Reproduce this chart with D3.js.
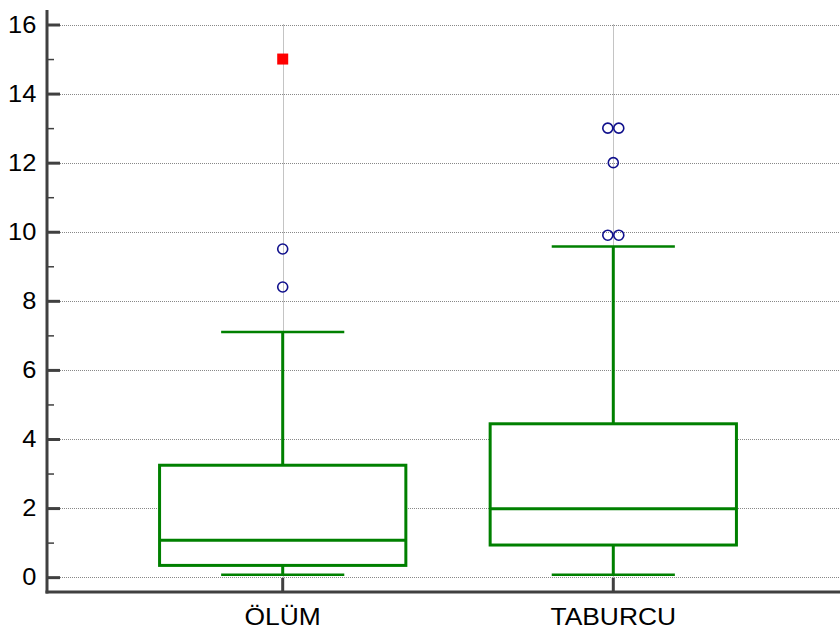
<!DOCTYPE html>
<html>
<head>
<meta charset="utf-8">
<script src="https://cdn.jsdelivr.net/npm/d3@7"></script>
<style>
  body { margin: 0; background: #fff; }
  svg { display: block; font-family: "Liberation Sans", Arial, sans-serif; }
</style>
</head>
<body>
<div id="chart"></div>
<script>
// data
var categories = ["ÖLÜM", "TABURCU"]
var lowWhisker = [0.07, 0.07]
var q1 = [0.34, 0.93]
var median = [1.07, 1.98]
var q3 = [3.24, 4.44]
var highWhisker = [7.1, 9.57]
var outliers = [[9.5, 8.4], [13, 13, 12, 9.9, 9.9]]
var farOutliers = [[15], []]
var majorTicks = [0, 2, 4, 6, 8, 10, 12, 14, 16]
var minorTicks = [1, 3, 5, 7, 9, 11, 13, 15]

var width = 840, height = 630
var axisColor = "#404040", green = "#008000"

var svg = d3.select("#chart").append("svg")
  .attr("width", width)
  .attr("height", height)

var x = d3.scaleBand()
  .domain(categories)
  .range([47, 849])
  .paddingInner(0)
  .paddingOuter(0.213)

var y = d3.scaleLinear()
  .domain([-0.43, 16.42])
  .range([592, 10])

// snap a coordinate to the pixel grid so 1px dotted lines stay crisp
function crisp(v) { return Math.round(v) + 0.5 }

var boxW = x.bandwidth() * 0.745
var capW = boxW / 2

// horizontal grid
svg.append("g").selectAll("line")
  .data(majorTicks)
  .enter().append("line")
  .attr("x1", 60).attr("x2", width)
  .attr("y1", function(d) { return crisp(y(d)) }).attr("y2", function(d) { return crisp(y(d)) })
  .attr("stroke", "#888").attr("stroke-width", 1).attr("stroke-dasharray", "1,1")

// vertical grid at categories
svg.append("g").selectAll("line")
  .data(categories)
  .enter().append("line")
  .attr("x1", function(d) { return crisp(x(d) + x.bandwidth() / 2) })
  .attr("x2", function(d) { return crisp(x(d) + x.bandwidth() / 2) })
  .attr("y1", y(16)).attr("y2", 578)
  .attr("stroke", "#888").attr("stroke-width", 1).attr("stroke-dasharray", "1,1")

// boxes
var g = svg.append("g")
categories.forEach(function(c, i) {
  var cx = x(c) + x.bandwidth() / 2
  // whisker lines
  g.append("line").attr("x1", cx).attr("x2", cx)
    .attr("y1", y(highWhisker[i])).attr("y2", y(q3[i]))
    .attr("stroke", green).attr("stroke-width", 3)
  g.append("line").attr("x1", cx).attr("x2", cx)
    .attr("y1", y(q1[i])).attr("y2", y(lowWhisker[i]))
    .attr("stroke", green).attr("stroke-width", 3)
  // caps
  ;[highWhisker[i], lowWhisker[i]].forEach(function(v) {
    g.append("line").attr("x1", cx - capW / 2).attr("x2", cx + capW / 2)
      .attr("y1", y(v)).attr("y2", y(v))
      .attr("stroke", green).attr("stroke-width", 2.5)
  })
  // box
  g.append("rect")
    .attr("x", cx - boxW / 2).attr("width", boxW)
    .attr("y", y(q3[i])).attr("height", y(q1[i]) - y(q3[i]))
    .attr("fill", "#fff").attr("stroke", green).attr("stroke-width", 3)
  g.append("line").attr("x1", cx - boxW / 2).attr("x2", cx + boxW / 2)
    .attr("y1", y(median[i])).attr("y2", y(median[i]))
    .attr("stroke", green).attr("stroke-width", 3)

  // outliers, duplicates spread sideways
  var seen = {}
  outliers[i].forEach(function(v) {
    var n = outliers[i].filter(function(w) { return w == v }).length
    seen[v] = (seen[v] || 0) + 1
    var off = (seen[v] - 1 - (n - 1) / 2) * 11
    g.append("circle")
      .attr("cx", cx + off).attr("cy", y(v)).attr("r", 5)
      .attr("fill", "none").attr("stroke", "#10108c").attr("stroke-width", 1.6)
  })
  farOutliers[i].forEach(function(v) {
    g.append("rect")
      .attr("x", cx - 5.5).attr("y", y(v) - 5.5)
      .attr("width", 11).attr("height", 11)
      .attr("fill", "#ff0000")
  })
})

// y axis ticks and labels
var yAxis = svg.append("g")
  .attr("transform", "translate(47,0)")
  .call(d3.axisLeft(y).tickValues(majorTicks).tickSizeInner(-13).tickSizeOuter(0).tickPadding(10))
yAxis.select(".domain").remove()
yAxis.selectAll(".tick line").attr("stroke", axisColor).attr("stroke-width", 3)
yAxis.selectAll(".tick text").attr("font-size", 24).attr("fill", "#000")
  .attr("font-family", "Liberation Sans, Arial, sans-serif")
  .attr("transform", "scale(1.06,1)")

var yMinor = svg.append("g")
  .attr("transform", "translate(47,0)")
  .call(d3.axisLeft(y).tickValues(minorTicks).tickSizeInner(-7).tickSizeOuter(0).tickFormat(""))
yMinor.select(".domain").remove()
yMinor.selectAll(".tick line").attr("stroke", axisColor).attr("stroke-width", 1.5)

// x axis ticks and labels
var xAxis = svg.append("g")
  .attr("transform", "translate(0,592)")
  .call(d3.axisBottom(x).tickSizeInner(-14).tickSizeOuter(0).tickPadding(16))
xAxis.select(".domain").remove()
xAxis.selectAll(".tick line").attr("stroke", axisColor).attr("stroke-width", 3)
xAxis.selectAll(".tick text").attr("font-size", 24).attr("fill", "#000")
  .attr("font-family", "Liberation Sans, Arial, sans-serif")
  .attr("transform", "scale(1.1,1)")

// axis lines
svg.append("line").attr("x1", 47).attr("x2", 47).attr("y1", 10).attr("y2", 593.5)
  .attr("stroke", axisColor).attr("stroke-width", 3)
svg.append("line").attr("x1", 45.5).attr("x2", width).attr("y1", 592).attr("y2", 592)
  .attr("stroke", axisColor).attr("stroke-width", 3)
</script>
</body>
</html>
